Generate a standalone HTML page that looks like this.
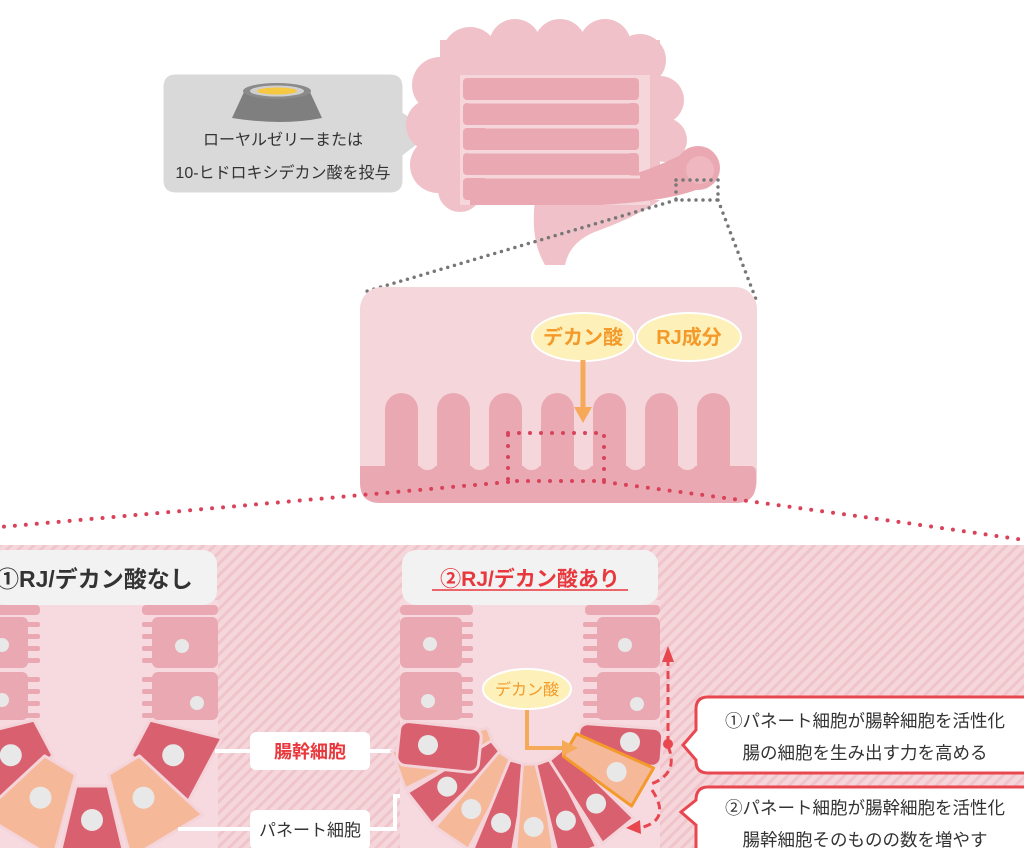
<!DOCTYPE html>
<html><head><meta charset="utf-8"><style>
html,body{margin:0;padding:0;background:#fff;}
svg{display:block;font-family:"Liberation Sans","Noto Sans CJK JP",sans-serif;}
</style></head><body>
<svg width="1024" height="848" viewBox="0 0 1024 848" xmlns="http://www.w3.org/2000/svg">
<defs>
<pattern id="st" width="8" height="8" patternUnits="userSpaceOnUse" patternTransform="rotate(45)">
<rect width="8" height="8" fill="#f5d6db"/><rect width="3" height="8" fill="#efc4cb"/>
</pattern>
</defs>

<!-- speech bubble -->
<path d="M176,73 H390 Q404,73 404,87 V112 L434,133 L404,156 V180 Q404,194 390,194 H176 Q162,194 162,180 V87 Q162,73 176,73 Z" fill="#d9d9d9" stroke="#fff" stroke-width="3"/>
<path d="M244,92 L310,92 L322,118 Q282,126 232,118 Z" fill="#7f7f7f"/>
<ellipse cx="277" cy="91" rx="34" ry="8" fill="#8a8a8a"/>
<ellipse cx="277" cy="91" rx="27" ry="5.5" fill="#cfcfcf"/>
<ellipse cx="277" cy="91" rx="20" ry="3.5" fill="#f7c842"/>
<text x="283" y="145" font-size="16" fill="#333" text-anchor="middle">ローヤルゼリーまたは</text>
<text x="283" y="178" font-size="16" fill="#333" text-anchor="middle">10-ヒドロキシデカン酸を投与</text>

<!-- intestine -->
<g fill="#f0c1c8">
<circle cx="470" cy="55" r="28"/><circle cx="515" cy="45" r="26"/><circle cx="560" cy="45" r="26"/><circle cx="605" cy="45" r="26"/><circle cx="640" cy="60" r="26"/>
<circle cx="660" cy="100" r="24"/><circle cx="665" cy="140" r="22"/>
<circle cx="440" cy="85" r="28"/><circle cx="432" cy="125" r="26"/><circle cx="438" cy="165" r="28"/><circle cx="460" cy="190" r="22"/>
<rect x="440" y="40" width="220" height="150"/>
<path d="M535,200 Q530,240 545,265 L565,265 Q570,240 600,230 Q640,215 660,200 Z"/>
<circle cx="560" cy="215" r="22"/>
</g>
<rect x="460" y="75" width="190" height="130" fill="#f4d6db"/>
<g fill="#eaa9b2">
<rect x="463" y="78" width="176" height="22" rx="4"/><rect x="463" y="103" width="176" height="22" rx="4"/><rect x="463" y="128" width="176" height="22" rx="4"/><rect x="463" y="153" width="176" height="22" rx="4"/><rect x="463" y="178" width="176" height="22" rx="4"/>
<path d="M470,190 Q600,200 690,150 L715,180 Q690,200 600,205 L470,205 Z"/>
</g>
<g stroke="#f4d6db" stroke-width="3"><line x1="468" y1="102" x2="630" y2="102"/><line x1="485" y1="127" x2="640" y2="127"/><line x1="468" y1="152" x2="630" y2="152"/><line x1="485" y1="177" x2="640" y2="177"/></g>
<circle cx="698" cy="168" r="22" fill="#eaa9b2"/><circle cx="700" cy="170" r="14" fill="#efb7bf"/>
<g fill="none" stroke="#777" stroke-width="3.5" stroke-linecap="round" stroke-dasharray="0 7">
<rect x="676" y="180" width="42" height="20"/>
<line x1="676" y1="200" x2="364" y2="292"/><line x1="718" y1="200" x2="757" y2="302"/>
</g>

<!-- middle panel -->
<rect x="360" y="287" width="397" height="216" rx="22" fill="#f4d6db"/>
<g fill="#eaa9b2">
<rect x="385" y="393" width="33" height="110" rx="16.5"/><rect x="437" y="393" width="33" height="110" rx="16.5"/><rect x="489" y="393" width="33" height="110" rx="16.5"/><rect x="541" y="393" width="33" height="110" rx="16.5"/><rect x="593" y="393" width="33" height="110" rx="16.5"/><rect x="645" y="393" width="33" height="110" rx="16.5"/><rect x="697" y="393" width="33" height="110" rx="16.5"/>
<path d="M360,466 H750 Q756,466 756,472 V483 Q756,503 736,503 H380 Q360,503 360,483 Z"/>
</g>
<rect x="418" y="440" width="19" height="30" rx="9" fill="#f4d6db"/><rect x="470" y="440" width="19" height="30" rx="9" fill="#f4d6db"/><rect x="522" y="440" width="19" height="30" rx="9" fill="#f4d6db"/><rect x="574" y="440" width="19" height="30" rx="9" fill="#f4d6db"/><rect x="626" y="440" width="19" height="30" rx="9" fill="#f4d6db"/><rect x="678" y="440" width="19" height="30" rx="9" fill="#f4d6db"/>
<ellipse cx="583" cy="337" rx="51" ry="24" fill="#fdf0b8" stroke="#fff" stroke-width="2"/>
<ellipse cx="689" cy="337" rx="52" ry="24" fill="#fdf0b8" stroke="#fff" stroke-width="2"/>
<text x="583" y="344" font-size="20" font-weight="bold" fill="#f39a2a" text-anchor="middle">デカン酸</text>
<text x="689" y="344" font-size="20" font-weight="bold" fill="#f39a2a" text-anchor="middle">RJ成分</text>
<line x1="583" y1="360" x2="583" y2="410" stroke="#f7a95a" stroke-width="5"/>
<path d="M574,407 L592,407 L583,423 Z" fill="#f7a95a"/>
<g fill="none" stroke="#d9435a" stroke-width="4" stroke-linecap="round" stroke-dasharray="0 11">
<rect x="508" y="433" width="96" height="48"/>
<path d="M508,482 Q250,505 0,527"/><path d="M604,482 Q820,510 1024,540"/>
</g>

<!-- bottom panel -->
<rect x="0" y="545" width="1024" height="303" fill="url(#st)"/>

<!-- left crypt -->
<rect x="-10" y="600" width="228" height="248" fill="#f6dadf"/>
<g fill="#eaa9b2">
<rect x="-10" y="605" width="50" height="10" rx="4"/><rect x="-10" y="617" width="38" height="51" rx="6"/><rect x="-10" y="672" width="38" height="48" rx="6"/>
<rect x="142" y="605" width="76" height="10" rx="4"/><rect x="152" y="617" width="66" height="51" rx="6"/><rect x="152" y="672" width="66" height="48" rx="6"/>
<rect x="20" y="622" width="20" height="5" rx="2"/><rect x="20" y="634" width="20" height="5" rx="2"/><rect x="20" y="646" width="20" height="5" rx="2"/><rect x="20" y="658" width="20" height="5" rx="2"/>
<rect x="20" y="677" width="20" height="5" rx="2"/><rect x="20" y="689" width="20" height="5" rx="2"/><rect x="20" y="701" width="20" height="5" rx="2"/><rect x="20" y="713" width="20" height="5" rx="2"/>
<rect x="142" y="622" width="14" height="5" rx="2"/><rect x="142" y="634" width="14" height="5" rx="2"/><rect x="142" y="646" width="14" height="5" rx="2"/><rect x="142" y="658" width="14" height="5" rx="2"/>
<rect x="142" y="677" width="14" height="5" rx="2"/><rect x="142" y="689" width="14" height="5" rx="2"/><rect x="142" y="701" width="14" height="5" rx="2"/><rect x="142" y="713" width="14" height="5" rx="2"/>
</g>
<g fill="#e8e8e8"><circle cx="182" cy="646" r="7"/><circle cx="197" cy="703" r="7"/><circle cx="2" cy="645" r="7"/><circle cx="2" cy="700" r="7"/></g>
<rect x="-10" y="550" width="227" height="55" rx="14" fill="#f2f2f2"/>
<text x="-4" y="587" font-size="23" font-weight="bold" fill="#333">①RJ/デカン酸なし</text>
<g stroke="#f4d3d9" stroke-width="3" stroke-linejoin="round">
<g transform="translate(92,712) rotate(62)"><path d="M-20,55 L20,55 L38,127 L-38,127 Z" fill="#d9606f"/><circle cx="0" cy="92" r="11" fill="#e8e8e8" stroke="none"/></g>
<g transform="translate(92,712) rotate(-62)"><path d="M-20,55 L20,55 L38,127 L-38,127 Z" fill="#d9606f"/><circle cx="0" cy="92" r="11" fill="#e8e8e8" stroke="none"/></g>
<g transform="translate(92,712) rotate(31)"><path d="M-18,62 L18,62 L42,145 L-42,145 Z" fill="#f5b99a"/><circle cx="0" cy="100" r="11" fill="#e8e8e8" stroke="none"/></g>
<g transform="translate(92,712) rotate(-31)"><path d="M-18,62 L18,62 L42,145 L-42,145 Z" fill="#f5b99a"/><circle cx="0" cy="100" r="11" fill="#e8e8e8" stroke="none"/></g>
<g transform="translate(92,712)"><path d="M-16,74 L16,74 L34,150 L-34,150 Z" fill="#d9606f"/><circle cx="0" cy="108" r="11" fill="#e8e8e8" stroke="none"/></g>
</g>

<!-- labels -->
<g stroke="#fff" stroke-width="4" fill="none">
<line x1="215" y1="751" x2="402" y2="751"/>
<polyline points="178,829 395,829 395,796 412,796"/>
</g>
<rect x="250" y="732" width="120" height="38" rx="6" fill="#fff"/>
<text x="310" y="758" font-size="18" font-weight="bold" fill="#e8383d" text-anchor="middle">腸幹細胞</text>
<rect x="250" y="810" width="120" height="40" rx="6" fill="#fff"/>
<text x="310" y="836" font-size="17" fill="#333" text-anchor="middle">パネート細胞</text>

<!-- right crypt -->
<rect x="400" y="600" width="260" height="248" fill="#f6dadf"/>
<g fill="#eaa9b2">
<rect x="400" y="605" width="73" height="10" rx="4"/><rect x="400" y="617" width="62" height="51" rx="6"/><rect x="400" y="672" width="62" height="48" rx="6"/>
<rect x="585" y="605" width="75" height="10" rx="4"/><rect x="597" y="617" width="63" height="51" rx="6"/><rect x="597" y="672" width="63" height="48" rx="6"/>
<rect x="455" y="622" width="18" height="5" rx="2"/><rect x="455" y="634" width="18" height="5" rx="2"/><rect x="455" y="646" width="18" height="5" rx="2"/><rect x="455" y="658" width="18" height="5" rx="2"/>
<rect x="455" y="677" width="18" height="5" rx="2"/><rect x="455" y="689" width="18" height="5" rx="2"/><rect x="455" y="701" width="18" height="5" rx="2"/><rect x="455" y="713" width="18" height="5" rx="2"/>
<rect x="583" y="622" width="18" height="5" rx="2"/><rect x="583" y="634" width="18" height="5" rx="2"/><rect x="583" y="646" width="18" height="5" rx="2"/><rect x="583" y="658" width="18" height="5" rx="2"/>
<rect x="583" y="677" width="18" height="5" rx="2"/><rect x="583" y="689" width="18" height="5" rx="2"/><rect x="583" y="701" width="18" height="5" rx="2"/><rect x="583" y="713" width="18" height="5" rx="2"/>
</g>
<g fill="#e8e8e8"><circle cx="430" cy="644" r="7"/><circle cx="428" cy="701" r="7"/><circle cx="625" cy="645" r="7"/><circle cx="637" cy="704" r="7"/></g>
<rect x="402" y="550" width="256" height="55" rx="14" fill="#f2f2f2"/>
<text x="530" y="586" font-size="21" font-weight="bold" fill="#e8383d" text-anchor="middle">②RJ/デカン酸あり</text>
<line x1="432" y1="590" x2="628" y2="590" stroke="#e8383d" stroke-width="1.5"/>

<g stroke="#f4d3d9" stroke-width="3" stroke-linejoin="round">
<g transform="translate(530,722) rotate(70)"><path d="M-9,42 L9,42 L20,140 L-20,140 Z" fill="#f5b99a"/><circle cx="0" cy="105" r="10" fill="#e8e8e8" stroke="none"/></g>
<g transform="translate(530,722) rotate(52)"><path d="M-9,42 L9,42 L20,140 L-20,140 Z" fill="#d9606f"/><circle cx="0" cy="105" r="10" fill="#e8e8e8" stroke="none"/></g>
<g transform="translate(530,722) rotate(34)"><path d="M-9,42 L9,42 L20,140 L-20,140 Z" fill="#f5b99a"/><circle cx="0" cy="105" r="10" fill="#e8e8e8" stroke="none"/></g>
<g transform="translate(530,722) rotate(16)"><path d="M-9,42 L9,42 L20,140 L-20,140 Z" fill="#d9606f"/><circle cx="0" cy="105" r="10" fill="#e8e8e8" stroke="none"/></g>
<g transform="translate(530,722) rotate(-2)"><path d="M-9,42 L9,42 L20,140 L-20,140 Z" fill="#f5b99a"/><circle cx="0" cy="105" r="10" fill="#e8e8e8" stroke="none"/></g>
<g transform="translate(530,722) rotate(-20)"><path d="M-9,42 L9,42 L20,140 L-20,140 Z" fill="#d9606f"/><circle cx="0" cy="105" r="10" fill="#e8e8e8" stroke="none"/></g>
<g transform="translate(530,722) rotate(-39)"><path d="M-9,42 L9,42 L20,140 L-20,140 Z" fill="#d9606f"/><circle cx="0" cy="105" r="10" fill="#e8e8e8" stroke="none"/></g>
<rect x="398" y="725" width="82" height="44" rx="9" fill="#d9606f" transform="rotate(6 440 747)"/>
<rect x="578" y="726" width="84" height="38" rx="9" fill="#d9606f" transform="rotate(4 620 745)"/>
<g transform="translate(530,722) rotate(-60)"><path d="M-13,46 L13,46 L22,130 L-22,130 Z" fill="#f5b99a" stroke="#f39a2a" stroke-width="3"/><circle cx="0" cy="100" r="10" fill="#e8e8e8" stroke="none"/></g>
</g>
<g fill="#e8e8e8"><circle cx="428" cy="745" r="10"/><circle cx="630" cy="742" r="10"/></g>

<ellipse cx="527" cy="689" rx="44" ry="20" fill="#fdf0b8" stroke="#fff" stroke-width="2"/>
<text x="527" y="695" font-size="16" fill="#f39a2a" text-anchor="middle">デカン酸</text>
<polyline points="527,710 527,748 565,748" fill="none" stroke="#f7a95a" stroke-width="4"/>
<path d="M562,740 L578,748 L562,756 Z" fill="#f7a95a"/>

<!-- dashed arrows -->
<g fill="none" stroke="#e8474f" stroke-width="3" stroke-dasharray="8 5">
<line x1="668" y1="744" x2="668" y2="660"/>
<path d="M668,746 Q680,775 648,785"/>
<path d="M652,790 Q672,820 640,828"/>
</g>
<path d="M662,662 L668,646 L674,662 Z" fill="#e8474f"/>
<circle cx="668" cy="744" r="5" fill="#e8474f"/>
<path d="M640,820 L626,828 L641,834 Z" fill="#e8474f"/>

<!-- callouts -->
<path d="M708,697 H1030 V773 H708 Q696,773 696,761 V760 L683,745 L696,730 V709 Q696,697 708,697 Z" fill="#fff" stroke="#e8474f" stroke-width="3"/>
<text x="865" y="727" font-size="17.5" fill="#333" text-anchor="middle">①パネート細胞が腸幹細胞を活性化</text>
<text x="865" y="759" font-size="17.5" fill="#333" text-anchor="middle">腸の細胞を生み出す力を高める</text>
<path d="M708,787 H1030 V860 H708 Q696,860 696,848 V825 L681,812 L696,800 Q696,787 708,787 Z" fill="#fff" stroke="#e8474f" stroke-width="3"/>
<text x="865" y="814" font-size="17.5" fill="#333" text-anchor="middle">②パネート細胞が腸幹細胞を活性化</text>
<text x="865" y="846" font-size="17.5" fill="#333" text-anchor="middle">腸幹細胞そのものの数を増やす</text>
</svg>
</body></html>
